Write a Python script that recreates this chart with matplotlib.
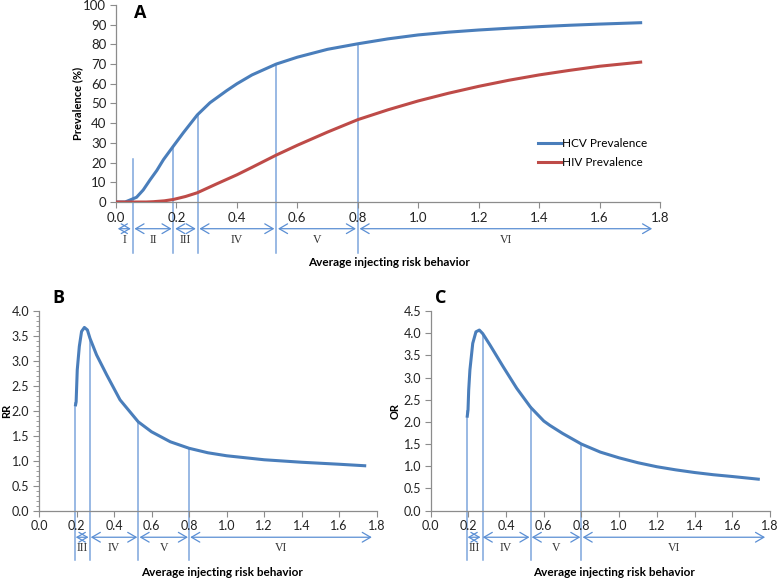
import matplotlib
matplotlib.use("Agg")
import matplotlib.pyplot as plt
from matplotlib.patches import FancyArrowPatch

# ---------------- data ----------------
# Panel A
hcv_x = [0, 0.03, 0.046, 0.068, 0.09, 0.1125, 0.135, 0.157, 0.19, 0.223, 0.269, 0.311, 0.366,
         0.4, 0.45, 0.53, 0.6, 0.7, 0.8, 0.9, 1.0, 1.1, 1.2, 1.3, 1.4, 1.5, 1.6, 1.736]
hcv = [0, 0, 1.0, 2.4, 6.1, 11.2, 16.0, 21.5, 28.4, 35.2, 44.2, 50.4, 56.5,
       60.0, 64.5, 70, 73.5, 77.5, 80.3, 82.8, 84.8, 86.2, 87.3, 88.2, 89, 89.7, 90.3, 91]
hiv_x = [0, 0.1, 0.123, 0.16, 0.19, 0.23, 0.269, 0.333, 0.4, 0.45, 0.53, 0.6, 0.7, 0.8,
         0.9, 1.0, 1.1, 1.2, 1.3, 1.4, 1.5, 1.6, 1.736]
hiv = [0, 0, 0.15, 0.6, 1.3, 2.8, 4.7, 9.2, 13.8, 17.6, 23.8, 28.8, 35.5, 41.8,
       46.8, 51.3, 55.2, 58.7, 61.8, 64.5, 66.8, 68.9, 71]
a_bounds = [0.055, 0.19, 0.27, 0.53, 0.80]
a_bound_tops = [22, 28, 44, 70, 80]
a_regions = ["I", "II", "III", "IV", "V", "VI"]
a_region_edges = [0.0, 0.055, 0.19, 0.27, 0.53, 0.80, 1.78]

# Panel B
rr_x = [0.195, 0.198, 0.201, 0.204, 0.215, 0.227, 0.242, 0.258, 0.272, 0.307, 0.361, 0.432,
        0.529, 0.6, 0.645, 0.7, 0.8, 0.9, 1.0, 1.1, 1.2, 1.3, 1.4, 1.5, 1.6, 1.736]
rr = [2.12, 2.18, 2.5, 2.82, 3.29, 3.59, 3.67, 3.62, 3.45, 3.12, 2.72, 2.22,
      1.78, 1.58, 1.49, 1.38, 1.25, 1.16, 1.10, 1.06, 1.02, 0.995, 0.97, 0.95, 0.93, 0.90]
b_bounds = [0.192, 0.272, 0.529, 0.80]
b_bound_tops = [2.15, 3.45, 1.78, 1.25]

# Panel C
or_x = [0.194, 0.198, 0.2016, 0.208, 0.223, 0.240, 0.258, 0.276, 0.315, 0.385, 0.456, 0.530,
        0.6, 0.633, 0.7, 0.8, 0.9, 1.0, 1.1, 1.2, 1.3, 1.4, 1.5, 1.6, 1.738]
orr = [2.13, 2.27, 2.72, 3.17, 3.77, 4.03, 4.07, 3.99, 3.73, 3.24, 2.76, 2.33,
       2.02, 1.92, 1.74, 1.50, 1.32, 1.19, 1.08, 0.99, 0.92, 0.86, 0.81, 0.77, 0.71]
c_bounds = [0.194, 0.276, 0.53, 0.80]
c_bound_tops = [2.25, 3.99, 2.33, 1.50]

bc_regions = ["III", "IV", "V", "VI"]
bc_region_edges = [0.19, 0.27, 0.53, 0.80, 1.78]

# ---------------- style ----------------
BLUE = "#4a7ebb"
RED = "#be4b48"
VLINE = "#7da6dc"
ARROW = "#5b8fd4"
SPINE = "#8c8c8c"
TICKFONT = "Lato"
LABFONT = "Lato"

fig = plt.figure(figsize=(7.78, 5.79), dpi=100)
axA = fig.add_axes([0.1491, 0.6511, 0.6992, 0.3403])
axB = fig.add_axes([0.0501, 0.1180, 0.4341, 0.3449])
axC = fig.add_axes([0.5536, 0.1180, 0.4361, 0.3449])


def style(ax, ylim, ystep, ylabel, ylab_x, xlab_x, xlab_y, tsize, minor=None):
    ax.set_xlim(0, 1.8)
    ax.set_ylim(*ylim)
    ax.set_xticks([i * 0.2 for i in range(10)])
    ax.set_xticklabels([f"{i*0.2:.1f}" for i in range(10)])
    n = int(round((ylim[1] - ylim[0]) / ystep))
    yt = [ylim[0] + i * ystep for i in range(n + 1)]
    ax.set_yticks(yt)
    if ystep >= 1:
        ax.set_yticklabels([f"{v:.0f}" for v in yt])
    else:
        ax.set_yticklabels([f"{v:.1f}" for v in yt])
    if minor:
        m = int(round((ylim[1] - ylim[0]) / minor))
        ax.set_yticks([ylim[0] + i * minor for i in range(m + 1)], minor=True)
        ax.tick_params(axis="y", which="minor", length=2.5, width=0.6, color=SPINE)
    for s in ["top", "right"]:
        ax.spines[s].set_visible(False)
    for s in ["left", "bottom"]:
        ax.spines[s].set_color(SPINE)
        ax.spines[s].set_linewidth(0.9)
    ax.tick_params(axis="both", which="major", length=4, width=0.8, color=SPINE,
                   labelsize=tsize, pad=3)
    for lab in ax.get_xticklabels() + ax.get_yticklabels():
        lab.set_fontfamily(TICKFONT)
        lab.set_color("#222222")
    ax.set_ylabel(ylabel, fontsize=8, fontweight="bold", fontfamily=LABFONT,
                  va="center", ha="center")
    ax.yaxis.set_label_coords(ylab_x, 0.5)
    ax.set_xlabel("Average injecting risk behavior", fontsize=8.5, fontweight="bold",
                  fontfamily=LABFONT, va="center")
    ax.xaxis.set_label_coords(xlab_x, xlab_y)


def regions(ax, bounds, tops, edges, names, ybottom, yarrow, ylab, ylim):
    span = ylim[1] - ylim[0]
    ybot_data = ylim[0] + ybottom * span
    for x, t in zip(bounds, tops):
        ax.plot([x, x], [ybot_data, t], color=VLINE, lw=1.1, clip_on=False, zorder=1)
    trans = ax.get_xaxis_transform()
    gap = 0.006
    for i, name in enumerate(names):
        x0, x1 = edges[i] + gap, edges[i + 1] - gap
        arr = FancyArrowPatch((x0, yarrow), (x1, yarrow), transform=trans,
                              arrowstyle="<->,head_length=6,head_width=3.5",
                              color=ARROW, lw=0.9, clip_on=False, mutation_scale=1,
                              shrinkA=0, shrinkB=0)
        ax.add_patch(arr)
        ax.text((edges[i] + edges[i + 1]) / 2, ylab, name, transform=trans,
                ha="center", va="center", fontsize=8.5, fontfamily="Liberation Serif",
                color="#333333", clip_on=False)


# Panel A
style(axA, (0, 100), 10, "Prevalence (%)", -0.07, 0.502, -0.305, 9.5)
axA.plot(hcv_x, hcv, color=BLUE, lw=2.2, label="HCV Prevalence", zorder=3)
axA.plot(hiv_x, hiv, color=RED, lw=2.2, label="HIV Prevalence", zorder=3)
regions(axA, a_bounds, a_bound_tops, a_region_edges, a_regions,
        -0.257, -0.1355, -0.193, (0, 100))
leg = axA.legend(loc="upper left", bbox_to_anchor=(0.776, 0.325), frameon=False,
                 handlelength=1.9, handletextpad=0.15, labelspacing=0.7,
                 borderaxespad=0, borderpad=0,
                 prop={"family": "Lato", "size": 8.5})

# Panel B
style(axB, (0, 4), 0.5, "RR", -0.095, 0.541, -0.31, 9, minor=0.1)
axB.plot(rr_x, rr, color=BLUE, lw=2.2, zorder=3)
regions(axB, b_bounds, b_bound_tops, bc_region_edges, bc_regions,
        -0.247, -0.133, -0.187, (0, 4))

# Panel C
style(axC, (0, 4.5), 0.5, "OR", -0.105, 0.54, -0.31, 9)
axC.plot(or_x, orr, color=BLUE, lw=2.2, zorder=3)
regions(axC, c_bounds, c_bound_tops, bc_region_edges, bc_regions,
        -0.247, -0.133, -0.187, (0, 4.5))

# Panel letters
H = 579
W = 778
for lx, ly, letter in [(140, 13, "A"), (58, 298, "B"), (441, 298, "C")]:
    fig.text(lx / W, 1 - ly / H, letter, fontsize=13, fontweight="bold",
             fontfamily="Open Sans", ha="center", va="center")

fig.savefig("out.png", dpi=100)
